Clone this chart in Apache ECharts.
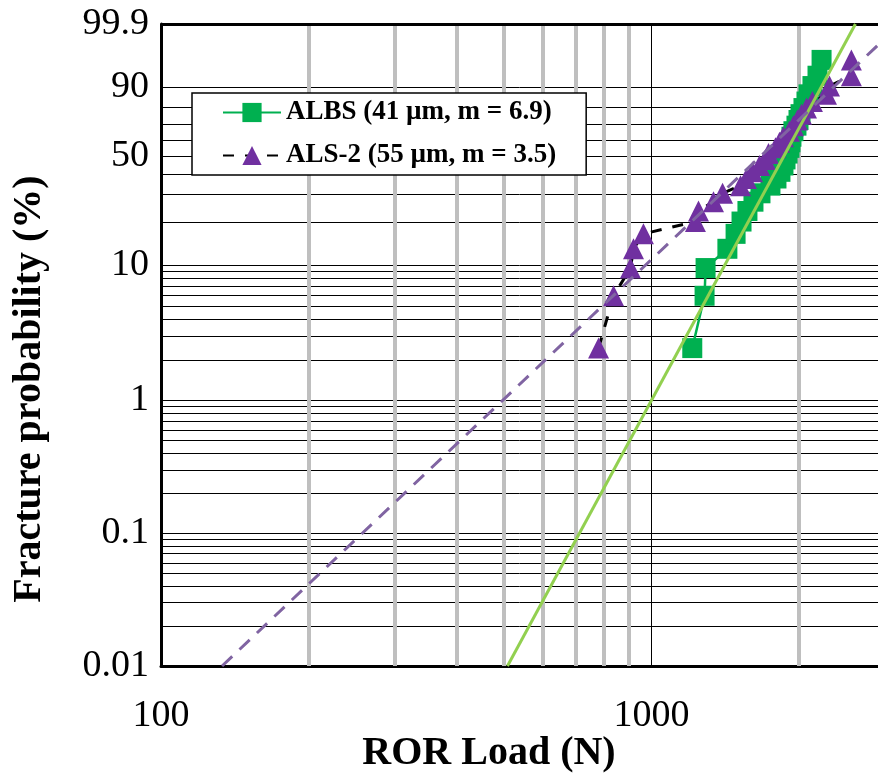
<!DOCTYPE html>
<html><head><meta charset="utf-8">
<script src="https://cdn.jsdelivr.net/npm/echarts@6/dist/echarts.min.js"></script>
<style>html,body{margin:0;padding:0;background:#fff}#c{width:878px;height:776px}</style>
</head><body><div id="c"></div>
<script>
// ---- data ----
const albsName = 'ALBS (41 µm, m = 6.9)';
const als2Name = 'ALS-2 (55 µm, m = 3.5)';
// fracture probability (%) of each specimen (median ranks)
const albsProb = [2.46, 5.99, 9.51, 13.03, 16.55, 20.07, 23.59, 27.11, 30.63, 34.15, 37.68, 41.20, 44.72, 48.24,
                  51.76, 55.28, 58.80, 62.32, 65.85, 69.37, 72.89, 76.41, 79.93, 83.45, 86.97, 90.49, 94.01, 97.54];
const albsLoad = [1211, 1283, 1289, 1428, 1484, 1526, 1569, 1614, 1668, 1748, 1798, 1832, 1858, 1876,
                  1894, 1911, 1920, 1929, 1947, 1975, 1994, 2013, 2041, 2070, 2090, 2129, 2180, 2222];
const als2Prob = [2.46, 5.99, 9.51, 13.03, 16.55, 20.07, 23.59, 27.11, 30.63, 34.15, 37.68, 41.20, 44.72, 48.24,
                  51.76, 55.28, 58.80, 62.32, 65.85, 69.37, 72.89, 76.41, 79.93, 83.45, 86.97, 90.49, 94.01, 97.54];
const als2Load = [780, 837, 906, 919, 963, 1229, 1247, 1338, 1396, 1519, 1562, 1607, 1661, 1708,
                  1732, 1790, 1824, 1858, 1911, 1947, 1984, 2022, 2070, 2129, 2274, 2306, 2556, 2556];
// fitted Weibull lines (end points)
const albsFitLoad = [508.6, 2605];
const albsFitProb = [0.01, 99.9];
const als2FitLoad = [133.2, 2896];
const als2FitProb = [0.01, 99.17];
// axes
const xMin = 100, xMax = 2896;
const xTickLabels = [100, 1000];
const yTickPct = [0.01, 0.1, 1, 10, 50, 90, 99.9];
const yTickLabels = ['0.01', '0.1', '1', '10', '50', '90', '99.9'];
const hGridPct = [0.01,0.02,0.03,0.04,0.05,0.06,0.07,0.08,0.09,
                  0.1,0.2,0.3,0.4,0.5,0.6,0.7,0.8,0.9,
                  1,2,3,4,5,6,7,8,9,10,20,30,40,50,60,70,80,90];
const vGrayLoad = [200,300,400,500,600,700,800,900,2000];
const vBlackLoad = [1000];

// Weibull probability transform
const W = p => Math.log(-Math.log(1 - p / 100));
const FONT = 'Liberation Serif';
const pairs = (xs, ps) => xs.map((x, i) => [x, W(ps[i])]);

const chart = echarts.init(document.getElementById('c'), null, {renderer: 'canvas'});
chart.setOption({
  animation: false,
  backgroundColor: '#fff',
  grid: {left: 161, right: 0, top: 24, bottom: 110, containLabel: false},
  xAxis: {
    type: 'log', logBase: 10, min: xMin, max: xMax,
    axisLine: {show: true, onZero: false, lineStyle: {color: '#000', width: 3}},
    axisTick: {show: false},
    splitLine: {show: false},
    axisLabel: {
      showMaxLabel: false, margin: 31, fontFamily: FONT, fontSize: 38, color: '#000',
      formatter: v => xTickLabels.some(t => Math.abs(v - t) < 1e-6 * t) ? String(Math.round(v)) : ''
    }
  },
  yAxis: {
    type: 'value', min: W(0.01), max: W(99.9),
    axisLine: {show: true, lineStyle: {color: '#000', width: 3}},
    axisTick: {show: false},
    splitLine: {show: false},
    axisLabel: {
      customValues: yTickPct.map(W), margin: 12, fontFamily: FONT, fontSize: 38, color: '#000',
      formatter: v => {
        let best = 0, bd = Infinity;
        yTickPct.forEach((p, i) => { const d = Math.abs(W(p) - v); if (d < bd) { bd = d; best = i; } });
        return yTickLabels[best];
      }
    }
  },
  legend: {
    left: 192, top: 93, orient: 'vertical', z: 20,
    data: [albsName, als2Name],
    backgroundColor: '#fff', borderColor: '#000', borderWidth: 1.5, borderRadius: 0,
    padding: [6, 30, 6, 30], itemWidth: 58, itemHeight: 24, itemGap: 16,
    textStyle: {fontFamily: FONT, fontWeight: 'bold', fontSize: 27, color: '#000'}
  },
  graphic: [
    {type: 'text', x: 489, y: 754, style: {text: 'ROR Load (N)', fontFamily: FONT, fontWeight: 'bold', fontSize: 40,
      fill: '#000', textAlign: 'center', textVerticalAlign: 'middle'}},
    {type: 'text', x: 30, y: 389, rotation: Math.PI / 2, style: {text: 'Fracture probability (%)', fontFamily: FONT,
      fontWeight: 'bold', fontSize: 40, fill: '#000', textAlign: 'center', textVerticalAlign: 'middle'}}
  ],
  series: [
    {
      name: 'grid', type: 'line', data: [], silent: true, z: 1,
      markLine: {
        silent: true, symbol: 'none', label: {show: false}, animation: false, z: 1,
        data: [
          ...hGridPct.map(p => ({yAxis: W(p), lineStyle: {color: '#000', width: 1, type: 'solid'}})),
          ...vGrayLoad.map(x => ({xAxis: x, lineStyle: {color: '#bfbfbf', width: 4, type: 'solid'}})),
          ...vBlackLoad.map(x => ({xAxis: x, lineStyle: {color: '#000', width: 1, type: 'solid'}})),
          {yAxis: W(99.9), lineStyle: {color: '#000', width: 3, type: 'solid'}}
        ]
      }
    },
    {
      name: albsName, type: 'line', z: 3, data: pairs(albsLoad, albsProb),
      symbol: 'rect', symbolSize: 20,
      itemStyle: {color: '#00b050'},
      lineStyle: {color: '#00b050', width: 2.5}
    },
    {
      name: als2Name, type: 'line', z: 3, data: pairs(als2Load, als2Prob),
      symbol: 'triangle', symbolSize: 21,
      itemStyle: {color: '#7030a0'},
      lineStyle: {color: '#000', width: 3, type: [11, 11]}
    },
    {
      name: 'albsFit', type: 'line', z: 4, data: pairs(albsFitLoad, albsFitProb),
      symbol: 'none', lineStyle: {color: '#92d050', width: 3}
    },
    {
      name: 'als2Fit', type: 'line', z: 4, data: pairs(als2FitLoad, als2FitProb),
      symbol: 'none', lineStyle: {color: '#8064a2', width: 3, type: [14, 10]}
    }
  ]
});
</script>
</body></html>
